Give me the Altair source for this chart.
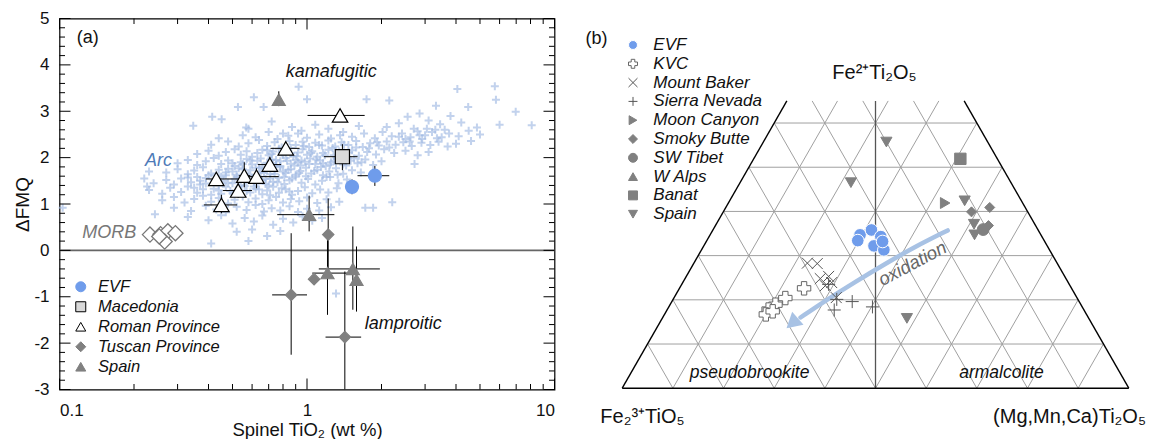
import altair as alt
import pandas as pd

FONT = "Liberation Sans"
BLUE = "#6f9ceb"
GREY = "#808080"
ARC_COLOR = "#a2bbe4"

# ================= panel (a) data =================
x_major = [0.1, 1, 10]
x_minor = [0.2, 0.3, 0.4, 0.5, 0.6, 0.7, 0.8, 0.9, 2, 3, 4, 5, 6, 7, 8, 9]
y_major = [-3, -2, -1, 0, 1, 2, 3, 4, 5]
y_minor = [v / 5 for v in range(-15, 26) if v % 5 != 0]

# Arc field (TiO2 wt%, dFMQ)
arc_points = [
    (0.58, 2.62), (0.72, 2.78), (0.80, 2.52), (0.87, 2.66), (0.95, 2.58), (1.08, 2.71), (1.22, 2.62),
    (1.40, 2.55), (1.62, 2.68), (2.10, 2.66), (2.35, 2.74), (2.55, 2.88), (2.85, 2.95), (3.10, 2.80),
    (3.45, 2.72), (3.80, 2.90), (4.20, 2.76), (2.70, 2.62), (3.30, 2.60),
    (0.44, 2.42), (0.55, 2.48), (0.62, 2.44), (0.70, 2.55), (0.76, 2.40), (0.84, 2.47), (0.92, 2.52),
    (1.00, 2.43), (1.12, 2.50), (1.25, 2.41), (1.36, 2.48), (1.52, 2.45), (1.70, 2.52), (1.88, 2.42),
    (2.02, 2.55), (2.20, 2.46), (2.42, 2.52), (2.62, 2.44), (2.80, 2.57), (3.00, 2.48), (3.20, 2.55),
    (3.50, 2.44), (3.75, 2.52), (4.10, 2.46), (4.50, 2.58), (5.00, 2.50), (2.50, 2.40), (2.92, 2.40),
    (3.35, 2.42),
    (0.41, 2.28), (0.48, 2.35), (0.53, 2.24), (0.58, 2.31), (0.64, 2.38), (0.69, 2.25), (0.74, 2.33),
    (0.79, 2.22), (0.85, 2.36), (0.90, 2.27), (0.96, 2.34), (1.02, 2.23), (1.08, 2.32), (1.15, 2.26),
    (1.22, 2.37), (1.30, 2.24), (1.38, 2.33), (1.47, 2.27), (1.58, 2.36), (1.68, 2.23), (1.80, 2.31),
    (1.95, 2.26), (2.10, 2.35), (2.28, 2.28), (2.45, 2.33), (2.65, 2.25), (2.90, 2.32), (3.15, 2.27),
    (3.40, 2.34), (3.70, 2.24), (4.00, 2.30), (4.60, 2.36),
    (0.36, 2.08), (0.40, 2.15), (0.44, 2.04), (0.47, 2.12), (0.51, 2.18), (0.54, 2.06), (0.57, 2.14),
    (0.60, 2.02), (0.63, 2.10), (0.66, 2.17), (0.70, 2.05), (0.73, 2.13), (0.77, 2.19), (0.80, 2.07),
    (0.84, 2.15), (0.88, 2.03), (0.92, 2.11), (0.96, 2.18), (1.00, 2.06), (1.05, 2.14), (1.10, 2.02),
    (1.16, 2.10), (1.22, 2.17), (1.28, 2.05), (1.35, 2.13), (1.43, 2.08), (1.52, 2.16), (1.62, 2.04),
    (1.75, 2.12), (1.90, 2.07), (2.05, 2.18), (2.25, 2.10), (2.50, 2.15), (2.80, 2.05), (3.10, 2.12),
    (0.69, 2.16), (0.86, 2.09),
    (0.30, 1.88), (0.33, 1.95), (0.36, 1.84), (0.39, 1.92), (0.42, 1.99), (0.45, 1.86), (0.48, 1.94),
    (0.51, 1.82), (0.54, 1.90), (0.57, 1.97), (0.60, 1.85), (0.63, 1.93), (0.66, 1.81), (0.69, 1.89),
    (0.72, 1.96), (0.75, 1.84), (0.78, 1.92), (0.82, 1.99), (0.86, 1.87), (0.90, 1.95), (0.94, 1.83),
    (0.98, 1.91), (1.03, 1.98), (1.08, 1.86), (1.13, 1.94), (1.19, 1.82), (1.25, 1.90), (1.32, 1.97),
    (1.40, 1.85), (1.50, 1.93), (1.60, 1.88), (1.72, 1.96), (1.85, 1.84), (2.00, 1.92), (0.55, 1.86),
    (0.73, 1.88), (0.92, 1.90), (1.16, 1.88),
    (0.27, 1.68), (0.30, 1.75), (0.33, 1.64), (0.35, 1.72), (0.38, 1.79), (0.41, 1.66), (0.44, 1.74),
    (0.47, 1.62), (0.50, 1.70), (0.53, 1.77), (0.56, 1.65), (0.59, 1.73), (0.62, 1.61), (0.65, 1.69),
    (0.68, 1.76), (0.71, 1.64), (0.74, 1.72), (0.78, 1.79), (0.82, 1.67), (0.86, 1.75), (0.90, 1.63),
    (0.94, 1.71), (0.99, 1.78), (1.04, 1.66), (1.10, 1.74), (1.16, 1.62), (1.23, 1.70), (1.31, 1.77),
    (1.40, 1.65), (1.52, 1.73), (1.65, 1.68), (0.48, 1.76), (0.64, 1.78), (0.80, 1.70), (0.40, 1.62),
    (0.24, 1.45), (0.27, 1.52), (0.29, 1.42), (0.31, 1.55), (0.34, 1.47), (0.36, 1.58), (0.39, 1.44),
    (0.42, 1.51), (0.45, 1.59), (0.48, 1.46), (0.51, 1.54), (0.54, 1.41), (0.57, 1.49), (0.60, 1.57),
    (0.63, 1.44), (0.66, 1.52), (0.70, 1.40), (0.73, 1.48), (0.77, 1.56), (0.81, 1.43), (0.85, 1.51),
    (0.90, 1.59), (0.95, 1.46), (1.01, 1.54), (1.08, 1.42), (1.15, 1.50), (1.24, 1.58), (1.34, 1.45),
    (1.45, 1.53), (0.37, 1.50), (0.52, 1.58), (0.68, 1.54),
    (0.23, 1.30), (0.26, 1.22), (0.28, 1.35), (0.31, 1.26), (0.33, 1.38), (0.36, 1.24), (0.38, 1.32),
    (0.41, 1.20), (0.44, 1.29), (0.47, 1.37), (0.50, 1.23), (0.53, 1.31), (0.56, 1.39), (0.59, 1.25),
    (0.62, 1.33), (0.66, 1.21), (0.69, 1.29), (0.73, 1.37), (0.77, 1.24), (0.82, 1.32), (0.87, 1.20),
    (0.92, 1.28), (0.98, 1.36), (1.05, 1.23), (1.13, 1.31), (1.22, 1.25), (1.32, 1.34), (0.45, 1.22),
    (0.61, 1.38),
    (0.26, 1.08), (0.29, 1.15), (0.32, 1.03), (0.35, 1.11), (0.38, 1.18), (0.41, 1.05), (0.44, 1.13),
    (0.48, 1.01), (0.51, 1.09), (0.55, 1.16), (0.58, 1.04), (0.62, 1.12), (0.66, 1.00), (0.70, 1.08),
    (0.75, 1.15), (0.80, 1.03), (0.86, 1.11), (0.93, 1.06), (1.00, 1.14), (1.10, 1.02), (1.20, 1.10),
    (1.35, 1.05),
    (0.29, 0.92), (0.34, 0.85), (0.39, 0.96), (0.43, 0.88), (0.47, 0.82), (0.52, 0.94), (0.57, 0.87),
    (0.62, 0.98), (0.67, 0.84), (0.72, 0.91), (0.78, 0.86), (0.85, 0.95), (0.92, 0.83), (1.00, 0.90),
    (1.12, 0.86), (1.25, 0.93),
    (0.33, 0.72), (0.40, 0.65), (0.45, 0.76), (0.50, 0.58), (0.56, 0.70), (0.61, 0.62), (0.66, 0.75),
    (0.73, 0.55), (0.80, 0.68), (0.88, 0.60), (0.96, 0.73), (1.05, 0.64), (1.15, 0.70),
    (0.41, 0.15), (0.69, 0.31), (0.52, 0.40), (0.60, 0.45), (0.78, 0.42), (0.58, 0.20),
    (0.103, 0.92), (0.226, 1.38), (0.243, 0.78), (0.22, 1.55), (0.23, 1.70), (0.347, 2.69),
    (0.414, 2.88), (0.452, 2.83), (0.526, 3.09), (0.568, 2.65), (0.668, 3.09), (0.61, 3.30),
    (0.925, 3.53), (1.00, 3.26), (1.74, 3.26), (2.15, 3.23), (4.05, 3.48), (5.74, 3.54), (5.80, 3.25),
    (6.97, 2.99), (8.09, 2.70), (6.00, 2.71), (4.86, 2.65), (4.48, 3.09), (3.32, 3.12), (2.72, 1.86),
    (2.21, 1.04), (1.85, 0.92), (1.72, 0.92), (1.31, -0.93),
    (0.37, 1.42), (0.39, 1.56), (0.42, 1.33), (0.43, 1.62), (0.46, 1.50), (0.47, 1.68), (0.50, 1.45),
    (0.50, 1.88), (0.52, 1.63), (0.53, 1.36), (0.55, 1.75), (0.56, 1.52), (0.58, 1.62), (0.59, 1.94),
    (0.61, 1.47), (0.62, 1.78), (0.64, 1.58), (0.65, 1.98), (0.67, 1.67), (0.68, 1.43), (0.70, 1.86),
    (0.71, 1.55), (0.72, 2.08), (0.74, 1.65), (0.75, 1.95), (0.76, 1.47), (0.78, 1.82), (0.79, 2.11),
    (0.81, 1.58), (0.83, 1.93), (0.84, 1.74), (0.86, 2.21), (0.87, 1.55), (0.89, 1.83), (0.91, 2.03),
    (0.93, 1.67), (0.95, 1.94), (0.97, 2.25), (0.99, 1.60), (1.02, 1.86), (1.04, 2.10), (1.07, 1.71),
    (1.09, 1.96), (1.12, 2.27), (1.14, 1.80), (1.18, 2.05), (1.20, 1.58), (1.24, 1.85), (1.27, 2.21),
    (1.29, 1.93), (1.33, 1.63), (1.37, 2.05), (1.41, 2.28), (1.44, 1.83), (1.48, 2.11), (1.55, 1.98),
    (1.58, 2.22), (1.66, 1.90), (1.78, 2.20), (1.92, 2.33), (2.15, 2.22), (2.35, 2.45), (2.60, 2.35),
    (2.85, 2.48), (3.05, 2.62), (3.60, 2.60), (0.33, 1.57), (0.35, 1.35), (0.44, 1.40), (0.49, 1.28),
    (0.57, 1.28), (0.64, 1.31), (0.71, 1.19), (0.79, 1.34), (0.85, 1.27),
]

a_groups = ["EVF", "Macedonia", "Roman Province", "Tuscan Province", "Spain"]

evf_x = [1.52, 1.88]
evf_y = [1.37, 1.61]
evf_xlo = [1.52, 1.60]
evf_xhi = [1.52, 2.15]
evf_ylo = [1.21, 1.39]
evf_yhi = [1.53, 1.82]

mac_x = [1.39]
mac_y = [2.02]
mac_xlo = [1.17]
mac_xhi = [1.60]
mac_ylo = [1.73]
mac_yhi = [2.29]

rom_x = [0.430, 0.451, 0.527, 0.558, 0.625, 0.708, 0.821, 1.36]
rom_y = [1.54, 0.98, 1.29, 1.61, 1.59, 1.85, 2.20, 2.91]
rom_xlo = [0.39, 0.383, 0.457, 0.53, 0.573, 0.633, 0.712, 1.005]
rom_xhi = [0.545, 0.522, 0.600, 0.59, 0.769, 0.786, 0.933, 1.71]
rom_ylo = [1.44, 0.80, 1.13, 1.36, 1.34, 1.70, 2.12, 2.85]
rom_yhi = [1.64, 1.20, 1.49, 1.90, 1.77, 2.02, 2.29, 2.96]

tus_x = [1.218, 0.863, 1.068, 1.422]
tus_y = [0.34, -0.96, -0.62, -1.87]
tus_xlo = [1.218, 0.723, 1.03, 1.188]
tus_xhi = [1.218, 1.0, 1.10, 1.655]
tus_ylo = [-0.45, -2.25, -0.70, -3.0]
tus_yhi = [1.12, 0.37, -0.54, -0.455]

spa_x = [0.769, 1.02, 1.21, 1.532, 1.585]
spa_y = [3.25, 0.77, -0.49, -0.40, -0.635]
spa_xlo = [0.769, 0.758, 1.05, 1.116, 1.585]
spa_xhi = [0.769, 1.29, 1.475, 1.97, 1.585]
spa_ylo = [3.11, 0.41, -1.39, -1.28, -1.32]
spa_yhi = [3.43, 1.18, 0.40, 0.515, 0.084]

morb_x = [0.232, 0.256, 0.274, 0.294, 0.266, 0.253]
morb_y = [0.34, 0.35, 0.41, 0.37, 0.19, 0.30]

ann_a_text = ["kamafugitic", "lamproitic"]
ann_a_x = [1.253, 2.447]
ann_a_y = [3.844, -1.592]

# ================= panel (b) data (mol %, Fe2+ and Mg end-members) =================
b_groups = ["EVF", "KVC", "Mount Baker", "Sierra Nevada", "Moon Canyon",
            "Smoky Butte", "SW Tibet", "W Alps", "Banat", "Spain"]

evf_fe2 = [34.7, 35.8, 34.3, 33.4, 32.2, 31.3, 33.2]
evf_mg = [29.6, 31.3, 33.9, 29.8, 33.6, 36.0, 34.8]
kvc_fe2 = [22.6, 20.4, 18.9, 17.8, 16.7, 17.4]
kvc_mg = [24.6, 22.0, 20.8, 20.0, 20.0, 21.0]
mtb_fe2 = [28.3, 28.2, 24.8, 25.3, 23.9, 20.5, 23.2]
mtb_mg = [22.4, 24.4, 26.7, 28.1, 29.4, 32.0, 28.5]
sn_fe2 = [20.1, 19.6, 17.7, 18.4, 23.5]
sn_mg = [32.3, 35.6, 33.0, 40.2, 29.0]
moon_fe2 = [41.9]
moon_mg = [42.8]
smoky_fe2 = [39.9, 40.9, 36.8]
smoky_mg = [49.0, 52.1, 53.9]
tibet_fe2 = [35.9]
tibet_mg = [53.3]
walps_fe2 = []
walps_mg = []
banat_fe2 = [51.9]
banat_mg = [40.8]
spainb_fe2 = [55.7, 46.5, 42.4, 37.1, 34.7, 15.8]
spainb_mg = [24.3, 21.9, 46.4, 50.9, 52.2, 48.3]

arrow_fe2 = [35.7, 32.1, 28.2, 24.1, 19.8, 16.0]
arrow_mg = [46.4, 41.9, 37.9, 34.0, 30.2, 27.2]
head_fe2 = [14.7]
head_mg = [26.2]

grid_k = [0.1, 0.2, 0.3, 0.4, 0.5, 0.6, 0.7, 0.8, 0.9]
TOP = 0.65

# ================= panel (a) chart =================
W1, H1 = 495, 371
xs = alt.Scale(type="log", domain=[0.1, 10], nice=False)
ys = alt.Scale(domain=[-3, 5], nice=False, zero=False)

AX = alt.Axis(
    values=x_major, labelExpr="datum.value + ''", ticks=False, tickSize=0, domain=False, grid=False,
    labelFont=FONT, labelFontSize=17, labelColor="#111", labelPadding=13,
    title="Spinel TiO\u2082 (wt %)", titleFont=FONT, titleFontSize=18.5, titleFontWeight="normal",
    titleColor="#111", titleY=40, titleBaseline="middle")
AY = alt.Axis(
    values=y_major, labelExpr="datum.value + ''", ticks=False, tickSize=0, domain=False, grid=False,
    labelFont=FONT, labelFontSize=17, labelColor="#111", labelPadding=10.5,
    title="\u0394FMQ", titleFont=FONT, titleFontSize=19, titleFontWeight="normal",
    titleColor="#111", titleX=-37, titleAngle=270, titleBaseline="middle")


def X(field):
    return alt.X(field, scale=xs, axis=AX)


def Y(field):
    return alt.Y(field, scale=ys, axis=AY)


arc_df = pd.DataFrame(arc_points, columns=["x", "y"])

rows = []
for g, XV, YV, XL, XH, YL, YH in [
    ("EVF", evf_x, evf_y, evf_xlo, evf_xhi, evf_ylo, evf_yhi),
    ("Macedonia", mac_x, mac_y, mac_xlo, mac_xhi, mac_ylo, mac_yhi),
    ("Roman Province", rom_x, rom_y, rom_xlo, rom_xhi, rom_ylo, rom_yhi),
    ("Tuscan Province", tus_x, tus_y, tus_xlo, tus_xhi, tus_ylo, tus_yhi),
    ("Spain", spa_x, spa_y, spa_xlo, spa_xhi, spa_ylo, spa_yhi),
]:
    for i in range(len(XV)):
        rows.append(dict(grp=g, x=XV[i], y=YV[i], xlo=XL[i], xhi=XH[i], ylo=YL[i], yhi=YH[i]))
pts_a = pd.DataFrame(rows)

arc = alt.Chart(arc_df).mark_point(
    shape="M-1,0L1,0M0,-1L0,1", size=64, strokeWidth=2, color=ARC_COLOR, opacity=0.65, filled=False
).encode(x=X("x:Q"), y=Y("y:Q"))

zero_line = alt.Chart(pd.DataFrame({"y": [0]})).mark_rule(color="#666", strokeWidth=1.6).encode(y=Y("y:Q"))


def xticks(vals, length, top):
    d = pd.DataFrame({"t": vals})
    if top:
        yy, yy2 = alt.value(0), alt.value(length)
    else:
        yy, yy2 = alt.value(H1), alt.value(H1 - length)
    return alt.Chart(d).mark_rule(color="black", strokeWidth=1).encode(x=X("t:Q"), y=yy, y2=yy2)


def yticks(vals, length, right):
    d = pd.DataFrame({"t": vals})
    if right:
        xx, xx2 = alt.value(W1), alt.value(W1 - length)
    else:
        xx, xx2 = alt.value(0), alt.value(length)
    return alt.Chart(d).mark_rule(color="black", strokeWidth=1).encode(y=Y("t:Q"), x=xx, x2=xx2)


tick_layers = [
    xticks(x_major, 11, False), xticks(x_minor, 5.5, False),
    xticks(x_major, 11, True), xticks(x_minor, 5.5, True),
    yticks(y_major, 11, False), yticks(y_minor, 5.5, False),
    yticks(y_major, 11, True), yticks(y_minor, 5.5, True),
]

hbar = alt.Chart(pts_a).mark_rule(color="black", strokeWidth=1, clip=True).encode(
    x=X("xlo:Q"), x2="xhi:Q", y=Y("y:Q"))
vbar = alt.Chart(pts_a).mark_rule(color="black", strokeWidth=1, clip=True).encode(
    x=X("x:Q"), y=Y("ylo:Q"), y2="yhi:Q")

morb = alt.Chart(pd.DataFrame({"x": morb_x, "y": morb_y})).mark_point(
    shape="diamond", size=230, fill="white", stroke="#777", strokeWidth=1.3, opacity=1
).encode(x=X("x:Q"), y=Y("y:Q"))

legend_a = alt.Legend(orient="none", legendX=13, legendY=260, title=None, padding=0,
                      labelFont=FONT, labelFontSize=16.5, labelFontStyle="italic", labelColor="#111",
                      symbolSize=100, symbolStrokeWidth=1, labelOffset=9, rowPadding=3)

shape_a = alt.Shape("grp:N", scale=alt.Scale(
    domain=a_groups, range=["circle", "square", "triangle-up", "diamond", "triangle-up"]), legend=legend_a)
fill_a = alt.Fill("grp:N", scale=alt.Scale(
    domain=a_groups, range=[BLUE, "#d9d9d9", "white", GREY, GREY]), legend=legend_a)
stroke_a = alt.Stroke("grp:N", scale=alt.Scale(
    domain=a_groups, range=[BLUE, "black", "black", GREY, GREY]), legend=legend_a)

size_a = {"EVF": 170, "Macedonia": 200, "Roman Province": 240, "Tuscan Province": 130, "Spain": 170}
marker_layers_a = [
    alt.Chart(pts_a[pts_a.grp == g]).mark_point(opacity=1, strokeWidth=1.2, size=size_a[g]).encode(
        x=X("x:Q"), y=Y("y:Q"), shape=shape_a, fill=fill_a, stroke=stroke_a)
    for g in a_groups
]


def text_a(texts, xv, yv, color, italic, size):
    d = pd.DataFrame({"t": texts, "x": xv, "y": yv})
    kw = dict(font=FONT, fontSize=size, color=color, align="center", baseline="middle")
    if italic:
        kw["fontStyle"] = "italic"
    return alt.Chart(d).mark_text(**kw).encode(x=X("x:Q"), y=Y("y:Q"), text="t:N")


texts_a = [
    text_a(["(a)"], [0.130], [4.569], "#111", False, 18),
    text_a(ann_a_text, ann_a_x, ann_a_y, "#111", True, 18),
    text_a(["Arc"], [0.251], [1.931], "#4e7bb8", True, 18),
    text_a(["MORB"], [0.159], [0.364], "#777", True, 18),
]

left = alt.layer(arc, zero_line, *tick_layers, hbar, vbar, morb, *marker_layers_a, *texts_a).properties(
    width=W1, height=H1, view=alt.ViewBackground(stroke="black", strokeWidth=1.2))

# ================= panel (b) chart =================
W2, H2 = 570, 371
xs2 = alt.Scale(domain=[-0.0863, 1.0389], nice=False, zero=False)
ys2 = alt.Scale(domain=[-0.0029, 0.8365], nice=False, zero=False)

grid_rows = [dict(fam="h", k=k) for k in grid_k if k < TOP] + \
            [dict(fam="c", k=k) for k in grid_k] + [dict(fam="a", k=k) for k in grid_k]
outline_rows = [dict(fam="h", k=0.0), dict(fam="c", k=0.0), dict(fam="a", k=0.0)]
center_rows = [dict(fam="v", k=0.5)]


def seg_chart(rows_, color, width):
    return alt.Chart(pd.DataFrame(rows_)).transform_calculate(
        gx="datum.fam == 'h' ? datum.k / 2 : (datum.fam == 'a' ? 1 - datum.k : datum.k)",
        gy="datum.fam == 'h' ? datum.k : 0",
        gy2=f"datum.fam == 'h' ? datum.k : (datum.fam == 'v' ? {TOP} : min(1 - datum.k, {TOP}))",
    ).transform_calculate(
        gx2="datum.fam == 'h' ? 1 - datum.k / 2 : (datum.fam == 'a' ? 1 - datum.k - datum.gy2 / 2 : "
            "(datum.fam == 'c' ? datum.k + datum.gy2 / 2 : datum.k))",
    ).mark_rule(color=color, strokeWidth=width).encode(
        x=alt.X("gx:Q", scale=xs2, axis=None), x2="gx2:Q",
        y=alt.Y("gy:Q", scale=ys2, axis=None), y2="gy2:Q")


grid = seg_chart(grid_rows, "#a0a0a0", 1)
center = seg_chart(center_rows, "#555", 1.3)
outline = seg_chart(outline_rows, "black", 1.4)

rows_b = []
for g, F, M in [
    ("EVF", evf_fe2, evf_mg), ("KVC", kvc_fe2, kvc_mg), ("Mount Baker", mtb_fe2, mtb_mg),
    ("Sierra Nevada", sn_fe2, sn_mg), ("Moon Canyon", moon_fe2, moon_mg),
    ("Smoky Butte", smoky_fe2, smoky_mg), ("SW Tibet", tibet_fe2, tibet_mg),
    ("W Alps", walps_fe2, walps_mg), ("Banat", banat_fe2, banat_mg), ("Spain", spainb_fe2, spainb_mg),
]:
    for f, m in zip(F, M):
        rows_b.append(dict(grp=g, fe2=f, mg=m))
pts_b = pd.DataFrame(rows_b)

TX = "(datum.mg + datum.fe2 / 2) / 100"
TY = "datum.fe2 / 100"

XPATH = "M-1,-1L1,1M-1,1L1,-1"
PPATH = "M-1,0L1,0M0,-1L0,1"

legend_b = alt.Legend(orient="none", legendX=46, legendY=18, title=None, padding=0,
                      labelFont=FONT, labelFontSize=17, labelFontStyle="italic", labelColor="#111",
                      symbolSize=80, symbolStrokeWidth=1, labelOffset=11.8, rowPadding=0.8)

shape_b = alt.Shape("grp:N", scale=alt.Scale(domain=b_groups, range=[
    "circle", "cross", XPATH, PPATH, "triangle-right", "diamond", "circle", "triangle-up", "square",
    "triangle-down"]), legend=legend_b)
fill_b = alt.Fill("grp:N", scale=alt.Scale(domain=b_groups, range=[
    BLUE, "white", "transparent", "transparent", GREY, GREY, GREY, GREY, GREY, GREY]), legend=legend_b)
stroke_b = alt.Stroke("grp:N", scale=alt.Scale(domain=b_groups, range=[
    "white", "#666", "#555", "#555", GREY, GREY, GREY, GREY, GREY, GREY]), legend=legend_b)

size_b = {"EVF": 160, "KVC": 180, "Mount Baker": 120, "Sierra Nevada": 170, "Moon Canyon": 120,
          "Smoky Butte": 100, "SW Tibet": 140, "W Alps": 120, "Banat": 130, "Spain": 125}
marker_layers_b = [
    alt.Chart(pts_b[pts_b.grp == g]).transform_calculate(tx=TX, ty=TY).mark_point(
        opacity=1, strokeWidth=1, size=size_b[g]).encode(
        x=alt.X("tx:Q", scale=xs2, axis=None), y=alt.Y("ty:Q", scale=ys2, axis=None),
        shape=shape_b, fill=fill_b, stroke=stroke_b)
    for g in b_groups if (pts_b.grp == g).any()
]

arrow_df = pd.DataFrame({"fe2": arrow_fe2, "mg": arrow_mg, "o": list(range(len(arrow_fe2)))})
arrow = alt.Chart(arrow_df).transform_calculate(tx=TX, ty=TY).mark_line(
    color="#a8c2e4", strokeWidth=4.5, interpolate="basis", strokeCap="round").encode(
    x=alt.X("tx:Q", scale=xs2, axis=None), y=alt.Y("ty:Q", scale=ys2, axis=None), order="o:Q")
head = alt.Chart(pd.DataFrame({"fe2": head_fe2, "mg": head_mg})).transform_calculate(tx=TX, ty=TY).mark_point(
    shape="triangle-up", angle=229, size=300, filled=True, color="#a8c2e4", opacity=1).encode(
    x=alt.X("tx:Q", scale=xs2, axis=None), y=alt.Y("ty:Q", scale=ys2, axis=None))


def text_b(texts, xv, yv, color, italic, size, angle=0):
    d = pd.DataFrame({"t": texts, "x": xv, "y": yv})
    kw = dict(font=FONT, fontSize=size, color=color, align="center", baseline="middle")
    if italic:
        kw["fontStyle"] = "italic"
    if angle:
        kw["angle"] = angle
    return alt.Chart(d).mark_text(**kw).encode(
        x=alt.X("x:Q", scale=xs2, axis=None), y=alt.Y("y:Q", scale=ys2, axis=None), text="t:N")


texts_b = [
    text_b(["(b)"], [-0.0507], [0.791], "#111", False, 18),
    text_b(["Fe\u00b2\u207aTi\u2082O\u2085", "Fe\u2082\u00b3\u207aTiO\u2085", "(Mg,Mn,Ca)Ti\u2082O\u2085"],
           [0.498, 0.040, 0.883], [0.7127, -0.064, -0.064], "#111", False, 20),
    text_b(["pseudobrookite", "armalcolite"], [0.2513, 0.7487], [0.0344, 0.0344], "#111", True, 17.5),
    text_b(["oxidation"], [0.573], [0.282], "#666", True, 18.5, angle=332),
]

right = alt.layer(grid, center, outline, arrow, head, *marker_layers_b, *texts_b).properties(
    width=W2, height=H2, view=alt.ViewBackground(strokeOpacity=0))

chart = alt.hconcat(left, right, spacing=24, bounds="flush").resolve_scale(
    x="independent", y="independent", shape="independent", fill="independent", stroke="independent"
).resolve_legend(
    shape="independent", fill="independent", stroke="independent"
).properties(
    padding={"left": 12.5, "top": 8.5, "right": 0, "bottom": 0}
).configure(font=FONT)

chart.save("out.html", embed_options={"renderer": "svg", "actions": False})
